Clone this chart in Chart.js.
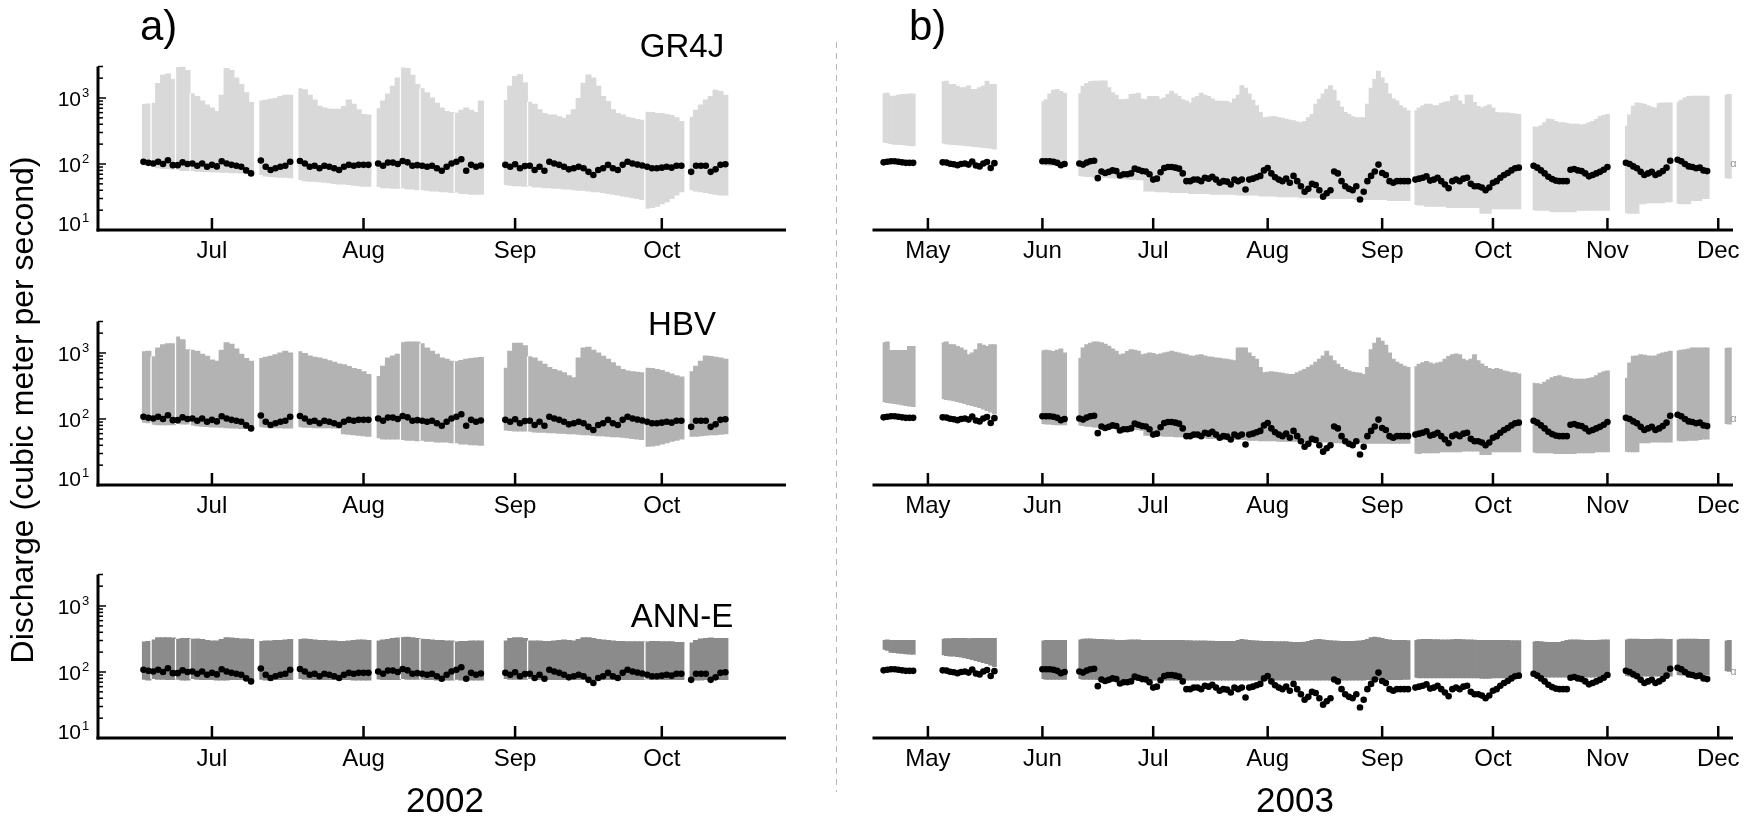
<!DOCTYPE html>
<html>
<head>
<meta charset="utf-8">
<script src="https://cdn.jsdelivr.net/npm/chart.js@4.4.1/dist/chart.umd.min.js"></script>
<style>
  body { margin: 0; background: #fff; width: 1749px; height: 820px; overflow: hidden; position: relative; }
  canvas { position: absolute; left: 0; top: 0; }
</style>
</head>
<body>
<canvas id="a1" width="1749" height="820"></canvas>
<canvas id="a2" width="1749" height="820"></canvas>
<canvas id="a3" width="1749" height="820"></canvas>
<canvas id="b1" width="1749" height="820"></canvas>
<canvas id="b2" width="1749" height="820"></canvas>
<canvas id="b3" width="1749" height="820"></canvas>
<script>
const FONT = '"Liberation Sans", Arial, Helvetica, sans-serif';

// ---- 2002 (panel a): day-of-year where each forecast segment starts ----
const segStartA = [168, 170, 175, 178, 192, 200, 216, 221, 225, 232, 242, 247, 271, 280];
const obsA = [
  [108, 104], [102, 108, 100, 114, 96], [96, 106, 100],
  [102, 94, 102, 91, 97, 92, 110, 102, 97, 94, 91, 80, 72],
  [113, 91, 81, 86, 91, 94, 108],
  [111, 102, 91, 94, 86, 94, 91, 86, 81, 91, 97, 94, 97, 97, 97],
  [102, 94, 105, 105, 100], [111, 106, 94, 96], [94, 91, 94, 86, 79, 91, 102],
  [108, 118, 79, 97, 91, 95], [97, 91, 99, 86, 93],
  [94, 81, 91, 79, 108, 102, 97, 91, 83, 86, 91, 86, 76, 68, 81, 86, 97, 86, 81, 97, 108, 102, 98, 95],
  [91, 86, 86, 88, 91, 88, 94, 94], [76, 94, 94, 94, 76, 83, 97, 99]
];
const gr4jHiA = [
  [810, 810], [850, 1650, 2200, 2300, 1900], [2950, 2950, 2600],
  [1180, 1050, 900, 780, 700, 620, 1100, 2800, 2600, 2000, 1600, 1200, 850],
  [920, 920, 950, 980, 1050, 1100, 1100],
  [1400, 1330, 1100, 930, 750, 700, 680, 670, 670, 740, 930, 800, 660, 560, 550],
  [700, 900, 1150, 1500, 2000], [2900, 2800, 2200, 1600], [1400, 1200, 1000, 830, 700, 620, 600],
  [600, 650, 700, 650, 600, 900], [930, 1500, 2100, 2250, 1700],
  [880, 800, 660, 580, 550, 550, 520, 490, 550, 660, 980, 1670, 2230, 2000, 1500, 1050, 880, 660, 580, 550, 510, 490, 470, 460],
  [620, 600, 580, 580, 560, 540, 500, 440], [520, 650, 780, 930, 1050, 1300, 1250, 1100]
];
const gr4jLoA = [
  [95, 95], [90, 88, 86, 85, 84], [82, 80, 80],
  [78, 78, 77, 77, 76, 76, 75, 75, 74, 74, 73, 72, 72],
  [68, 66, 65, 64, 63, 63, 62],
  [57, 56, 55, 55, 54, 53, 52, 51, 50, 50, 49, 48, 47, 46, 46],
  [45, 44, 44, 43, 43], [43, 42, 42, 41], [40, 40, 39, 39, 38, 38, 37],
  [37, 36, 36, 35, 35, 35], [48, 48, 47, 47, 46],
  [46, 45, 45, 44, 44, 43, 43, 42, 42, 41, 40, 40, 39, 38, 38, 37, 36, 35, 34, 33, 32, 31, 30, 29],
  [21, 22, 23, 25, 27, 30, 34, 38], [40, 39, 38, 37, 36, 35, 34, 34]
];
const hbvHiA = [
  [1060, 1060], [890, 1190, 1330, 1380, 1380], [1780, 1580, 1120],
  [1120, 1060, 950, 890, 780, 750, 1100, 1420, 1350, 1150, 950, 820, 750],
  [840, 860, 890, 940, 1000, 1060, 1000],
  [1060, 980, 900, 860, 840, 800, 760, 720, 680, 660, 620, 580, 560, 520, 470],
  [450, 630, 840, 900, 950], [1460, 1460, 1460, 1460], [1410, 1190, 1060, 950, 840, 800, 750],
  [750, 770, 800, 820, 840, 850], [600, 1060, 1400, 1400, 1280],
  [890, 840, 750, 670, 600, 560, 530, 500, 450, 420, 840, 1190, 1220, 1100, 1000, 890, 800, 710, 630, 560, 530, 520, 510, 500],
  [600, 580, 560, 540, 510, 480, 450, 430], [530, 630, 750, 900, 880, 860, 840, 800]
];
const hbvLoA = [
  [88, 88], [82, 82, 82, 82, 82], [84, 84, 84],
  [80, 79, 78, 77, 76, 76, 75, 74, 73, 73, 72, 72, 71],
  [75, 75, 74, 74, 74, 73, 73],
  [75, 75, 75, 74, 74, 74, 74, 73, 73, 60, 59, 58, 57, 56, 55],
  [51, 50, 50, 50, 50], [48, 48, 48, 47], [47, 46, 46, 45, 45, 45, 44],
  [43, 42, 42, 41, 41, 40], [67, 67, 66, 66, 66],
  [64, 64, 63, 63, 62, 62, 61, 61, 60, 60, 59, 58, 58, 57, 56, 56, 55, 54, 54, 53, 52, 51, 50, 49],
  [38, 39, 40, 42, 44, 46, 48, 50], [54, 55, 56, 57, 58, 58, 59, 60]
];
const annHiA = [
  [290, 290], [310, 330, 330, 330, 325], [320, 320, 320],
  [320, 315, 310, 300, 295, 295, 310, 330, 325, 320, 315, 315, 310],
  [295, 295, 295, 300, 300, 305, 310],
  [315, 315, 310, 305, 300, 300, 295, 295, 290, 290, 295, 300, 305, 305, 300],
  [300, 305, 310, 320, 325], [340, 335, 330, 320], [320, 310, 305, 300, 300, 295, 295],
  [290, 290, 290, 295, 295, 295], [300, 320, 330, 330, 320],
  [300, 295, 295, 290, 290, 295, 300, 305, 300, 295, 310, 330, 330, 320, 310, 305, 300, 295, 290, 290, 285, 285, 285, 285],
  [290, 290, 290, 285, 285, 285, 280, 280], [280, 300, 315, 320, 325, 320, 320, 320]
];
const annLoA = [
  [76, 76], [78, 78, 78, 77, 77], [76, 76, 76],
  [78, 78, 77, 77, 77, 76, 76, 76, 77, 77, 77, 78, 78],
  [76, 76, 76, 77, 77, 77, 77],
  [78, 78, 78, 77, 77, 77, 77, 77, 77, 77, 77, 76, 76, 76, 76],
  [77, 77, 77, 77, 77], [78, 78, 78, 78], [77, 77, 77, 76, 76, 76, 76],
  [76, 76, 76, 76, 76, 76], [78, 78, 78, 78, 78],
  [78, 78, 77, 77, 77, 77, 77, 77, 77, 77, 77, 77, 77, 77, 77, 77, 77, 77, 77, 77, 77, 77, 77, 77],
  [77, 77, 77, 77, 77, 77, 77, 77], [76, 76, 76, 77, 77, 77, 77, 77]
];
const monthDaysA = [182, 213, 244, 274];
const monthLabelsA = ["Jul", "Aug", "Sep", "Oct"];

// ---- 2003 (panel b) ----
const segStartB = [109, 125, 152, 162, 253, 285, 310, 324, 337];
const obsB = [
  [106, 108, 110, 110, 108, 106, 104, 104, 104],
  [106, 105, 101, 99, 96, 100, 102, 98, 109, 95, 92, 102, 107, 87, 103],
  [110, 110, 110, 108, 104, 96, 100],
  [102, 98, 105, 110, 112, 61, 77, 73, 76, 80,
   78, 67, 70, 70, 72, 85, 82, 78, 77, 70,
   58, 60, 75, 87, 90, 90, 88, 85, 72, 55,
   55, 58, 58, 55, 62, 60, 64, 58, 52, 55,
   54, 49, 58, 55, 58, 41, 58, 60, 63, 66,
   80, 87, 72, 63, 58, 55, 60, 52, 66, 55,
   46, 38, 42, 50, 48, 40, 32, 36, 40, 77,
   72, 55, 46, 42, 40, 46, 29, 38, 55, 66,
   77, 98, 73, 68, 55, 52, 55, 55, 55, 55],
  [58, 60, 62, 65, 56, 58, 62, 55, 49, 43, 55, 58, 55, 60, 62, 50, 46, 46, 44, 40, 44, 52, 55, 62, 68, 73, 80, 86, 88],
  [94, 88, 80, 72, 64, 59, 56, 55, 55, 55, 82, 84, 80, 78, 72, 65, 68, 72, 76, 82, 90],
  [104, 100, 92, 86, 76, 68, 72, 76, 68, 72, 78, 88, 112],
  [116, 110, 100, 92, 90, 86, 88, 80, 78],
  [null, null]
];
const gr4jHiB = [
  [1180, 1180, 1060, 1060, 1100, 1130, 1130, 1150, 1150],
  [1790, 1790, 1590, 1590, 1500, 1420, 1420, 1520, 1340, 1340, 1420, 1500, 1790, 1590, 1590],
  [890, 940, 1150, 1300, 1340, 1250, 1180],
  [1180, 1500, 1650, 1750, 1790, 1790, 1800, 1800, 1420, 1200,
   1100, 940, 940, 950, 1130, 1150, 1180, 960, 940, 1050,
   1050, 1050, 950, 1000, 1130, 1260, 1150, 1050, 940, 900,
   840, 1000, 1050, 1180, 1100, 1050, 960, 900, 890, 890,
   880, 840, 960, 1100, 1530, 1400, 1150, 920, 760, 600,
   500, 510, 520, 520, 500, 490, 475, 460, 450, 430,
   420, 440, 500, 560, 800, 950, 1150, 1350, 1530, 1300,
   900, 720, 600, 560, 520, 500, 500, 500, 800, 1400,
   1900, 2540, 2000, 1650, 1150, 960, 900, 760, 700, 640],
  [650, 700, 760, 800, 800, 760, 760, 820, 860, 880, 1050, 1100, 900, 800, 1100, 1100, 850, 740, 700, 740, 780, 700, 600, 590, 590, 590, 580, 570, 560],
  [370, 360, 380, 420, 480, 470, 440, 420, 420, 410, 400, 400, 400, 390, 400, 420, 440, 470, 520, 540, 560],
  [380, 550, 750, 840, 820, 800, 760, 720, 700, 820, 840, 840, 840],
  [880, 920, 1000, 1050, 1060, 1060, 1060, 1060, 1060],
  [1130, 1130]
];
const gr4jLoB = [
  [210, 210, 205, 200, 200, 198, 195, 192, 190],
  [205, 203, 200, 198, 196, 194, 192, 190, 187, 185, 182, 180, 177, 174, 170],
  [98, 97, 96, 95, 94, 93, 92],
  [66, 66, 65, 65, 64, 64, 63, 63, 62, 62, 61, 61, 60, 60, 59, 59, 58, 58,
   39, 39, 39, 38, 38, 38, 38, 37, 37, 37, 37, 37, 36, 36, 36, 36, 36, 36, 35, 35, 35, 35, 35, 35, 35, 34, 34, 34, 34, 34, 34,
   33, 33, 33, 33, 33, 32, 32, 32, 32, 32, 32, 31, 31, 31, 31, 31, 31, 31, 30, 30, 30, 30, 30, 30, 30, 30, 29, 29, 29, 29, 29, 29, 29, 29, 29, 28, 28, 28, 28, 28, 28],
  [24, 24, 24, 23, 23, 23, 23, 23, 23, 22, 22, 22, 22, 22, 22, 22, 22, 22, 18, 18, 18, 21, 21, 21, 21, 21, 21, 21, 21],
  [20, 20, 20, 20, 20, 19, 19, 19, 19, 19, 19, 19, 20, 20, 20, 20, 20, 20, 20, 20, 20],
  [18, 18, 18, 18, 25, 25, 26, 26, 26, 26, 26, 27, 27],
  [25, 25, 25, 25, 28, 28, 28, 30, 30],
  [61, 61]
];
const hbvHiB = [
  [1460, 1460, 1090, 1090, 1090, 1090, 1090, 1250, 1250],
  [1460, 1460, 1330, 1330, 1250, 1190, 1100, 940, 1000, 1120, 1370, 1300, 1250, 1330, 1330],
  [1100, 1100, 1080, 1050, 1100, 1150, 1000],
  [840, 1190, 1330, 1400, 1460, 1460, 1430, 1350, 1260, 1150,
   1060, 940, 960, 1050, 1120, 1100, 1060, 940, 960, 1000,
   980, 940, 960, 1000, 1020, 1060, 1020, 1000, 960, 940,
   900, 890, 920, 940, 900, 870, 860, 840, 830, 810,
   800, 780, 760, 1190, 1190, 1190, 1000, 880, 800, 600,
   500, 510, 520, 510, 500, 490, 480, 470, 470, 500,
   530, 560, 600, 650, 720, 800, 900, 1060, 900, 760,
   670, 600, 560, 530, 510, 500, 490, 470, 600, 1120,
   1400, 1680, 1500, 1300, 1000, 800, 720, 670, 630, 600],
  [630, 670, 710, 740, 700, 680, 700, 720, 800, 880, 940, 960, 940, 800, 760, 800, 940, 760, 680, 620, 580, 560, 580, 560, 530, 520, 500, 500, 480],
  [355, 340, 335, 360, 390, 420, 440, 450, 430, 420, 410, 400, 400, 400, 400, 410, 420, 450, 490, 520, 530],
  [420, 700, 890, 900, 940, 920, 900, 890, 900, 950, 1000, 1020, 1060],
  [1090, 1100, 1120, 1150, 1190, 1190, 1190, 1190, 1190],
  [1190, 1190]
];
const hbvLoB = [
  [180, 178, 175, 172, 170, 165, 160, 158, 155],
  [200, 198, 195, 190, 185, 178, 172, 165, 160, 155, 150, 142, 135, 128, 120],
  [84, 84, 84, 83, 82, 82, 82],
  [80, 80, 78, 78, 76, 76, 75, 75, 74, 74, 73, 72, 72, 71, 70, 70, 69, 68,
   57, 57, 56, 56, 56, 55, 55, 55, 54, 54, 54, 53, 53, 53, 52, 52, 52, 51, 51, 51, 50, 50, 50, 50, 49, 49, 49, 49, 48, 48, 48,
   47, 47, 47, 47, 47, 46, 46, 46, 46, 46, 46, 46, 45, 45, 45, 45, 45, 45, 45, 45, 44, 44, 44, 44, 44, 44, 44, 44, 44, 43, 43, 43, 43, 43, 43, 43, 43, 43, 43, 43, 43],
  [30, 30, 31, 31, 31, 31, 31, 32, 32, 32, 32, 32, 32, 33, 33, 33, 33, 33, 29, 29, 29, 32, 32, 32, 32, 32, 32, 32, 32],
  [31, 31, 31, 31, 31, 31, 30, 30, 30, 30, 30, 30, 31, 31, 31, 31, 31, 32, 32, 32, 32],
  [32, 32, 32, 32, 44, 44, 44, 45, 45, 45, 45, 45, 45],
  [47, 47, 47, 48, 48, 48, 49, 50, 50],
  [84, 84]
];
const annHiB = [
  [305, 305, 300, 300, 300, 300, 300, 300, 300],
  [320, 318, 318, 320, 320, 322, 320, 318, 320, 320, 322, 320, 322, 322, 320],
  [300, 300, 300, 300, 300, 300, 300],
  [310, 312, 315, 315, 312, 310, 310, 308, 305, 303,
   300, 300, 300, 302, 305, 305, 303, 300, 300, 300,
   300, 300, 300, 298, 298, 300, 300, 298, 298, 296,
   296, 295, 295, 294, 294, 292, 292, 290, 290, 290,
   288, 288, 290, 300, 310, 305, 300, 296, 294, 292,
   290, 288, 288, 286, 286, 285, 285, 282, 280, 280,
   280, 282, 290, 300, 308, 310, 305, 300, 296, 294,
   292, 290, 288, 288, 290, 292, 295, 300, 310, 330,
   335, 330, 320, 310, 305, 300, 300, 298, 298, 296],
  [305, 308, 310, 310, 310, 308, 306, 305, 305, 305, 308, 310, 310, 308, 305, 305, 302, 300, 300, 300, 300, 300, 298, 298, 298, 298, 296, 296, 296],
  [290, 288, 286, 282, 280, 278, 278, 280, 290, 300, 305, 305, 305, 302, 300, 300, 300, 300, 302, 305, 305],
  [310, 312, 312, 312, 310, 310, 310, 310, 312, 312, 312, 310, 310],
  [310, 312, 312, 312, 312, 312, 310, 310, 310],
  [300, 300]
];
const annLoB = [
  [218, 215, 200, 198, 195, 193, 190, 188, 186],
  [180, 178, 176, 175, 172, 170, 165, 160, 155, 150, 145, 140, 135, 128, 122],
  [78, 78, 78, 78, 78, 78, 78],
  [78, 78, 78, 78, 78, 77, 77, 77, 77, 77,
   77, 77, 77, 76, 76, 76, 76, 76, 76, 76,
   76, 76, 76, 76, 76, 76, 76, 76, 76, 76,
   76, 76, 76, 76, 76, 76, 76, 76, 76, 76,
   76, 76, 76, 76, 76, 76, 76, 76, 76, 76,
   76, 76, 76, 76, 76, 76, 76, 76, 76, 76,
   76, 76, 76, 76, 76, 76, 76, 76, 76, 76,
   76, 76, 76, 76, 76, 76, 76, 76, 77, 77,
   77, 77, 77, 77, 77, 77, 77, 77, 78, 78],
  [82, 82, 82, 82, 82, 82, 82, 82, 82, 82, 82, 82, 82, 82, 82, 82, 82, 82, 81, 81, 81, 82, 82, 82, 82, 82, 82, 82, 82],
  [84, 84, 84, 84, 84, 84, 84, 84, 84, 84, 84, 84, 84, 84, 84, 84, 84, 84, 84, 84, 84],
  [87, 87, 87, 87, 87, 87, 87, 87, 87, 87, 87, 87, 87],
  [90, 90, 90, 90, 90, 90, 90, 90, 90],
  [103, 103]
];
const monthDaysB = [121, 152, 182, 213, 244, 274, 305, 335];
const monthLabelsB = ["May", "Jun", "Jul", "Aug", "Sep", "Oct", "Nov", "Dec"];

const yTickValues = [10, 100, 1000];
const yTickPowers = ["1", "2", "3"];
const modelNames = ["GR4J", "HBV", "ANN-E"];
const modelColors = ["#d9d9d9", "#b3b3b3", "#8b8b8b"];

function bandData(starts, lo, hi) {
  const rows = [];
  starts.forEach((start, k) => {
    hi[k].forEach((top, i) => {
      rows.push({ x: start + i, y: [lo[k][i], top], segStart: i === 0 });
    });
  });
  return rows;
}

function obsData(starts, obs) {
  const rows = [];
  starts.forEach((start, k) => {
    obs[k].forEach((v, i) => {
      if (v !== null) rows.push({ x: start + i, y: v });
    });
  });
  return rows;
}

// axes, month ticks and labels drawn from the chart's own scales
const panelAxes = {
  id: "panelAxes",
  afterDraw(chart, args, o) {
    const { ctx, chartArea: a } = chart;
    const x = chart.scales.x, y = chart.scales.y;
    ctx.save();
    ctx.strokeStyle = "#000";
    ctx.fillStyle = "#000";
    ctx.lineWidth = 3;
    ctx.beginPath();
    ctx.moveTo(a.left - 1.5, a.bottom);
    ctx.lineTo(a.right, a.bottom);
    ctx.stroke();

    ctx.font = "24px " + FONT;
    ctx.textAlign = "center";
    ctx.textBaseline = "alphabetic";
    o.monthDays.forEach((d, i) => {
      const px = x.getPixelForValue(d);
      ctx.lineWidth = 2.5;
      ctx.beginPath();
      ctx.moveTo(px, a.bottom);
      ctx.lineTo(px, a.bottom - 12);
      ctx.stroke();
      ctx.fillText(o.monthLabels[i], px, a.bottom + 28);
    });

    if (o.showY) {
      ctx.lineWidth = 3;
      ctx.beginPath();
      ctx.moveTo(a.left, a.top);
      ctx.lineTo(a.left, a.bottom + 1.5);
      ctx.stroke();
      ctx.lineWidth = 1.5;
      yTickValues.forEach((base) => {
        for (let m = 1; m <= 9; m++) {
          const v = base * m;
          if (v > y.max) break;
          const py = y.getPixelForValue(v);
          ctx.beginPath();
          ctx.moveTo(a.left, py);
          ctx.lineTo(a.left + (m === 1 ? 8 : 5), py);
          ctx.stroke();
        }
      });
      yTickValues.forEach((v, i) => {
        const py = y.getPixelForValue(v);
        const shift = i === 0 ? 1 : 8;
        ctx.font = "21px " + FONT;
        ctx.textAlign = "right";
        ctx.fillText("10", a.left - 17, py + shift);
        ctx.font = "13px " + FONT;
        ctx.textAlign = "left";
        ctx.fillText(yTickPowers[i], a.left - 16, py + shift - 9);
      });
    }

    if (o.title) {
      ctx.font = "33px " + FONT;
      ctx.textAlign = "center";
      ctx.fillText(o.title, 682, o.titleY);
    }
    if (o.mark) {
      ctx.font = "11px " + FONT;
      ctx.fillStyle = "#999";
      ctx.textAlign = "center";
      ctx.textBaseline = "middle";
      ctx.fillText("α", x.getPixelForValue(o.mark[0]) + 4, y.getPixelForValue(o.mark[1]));
    }
    ctx.restore();
  }
};

// figure-level texts: panel letters, shared y title, years and separator
const figureText = {
  id: "figureText",
  afterDraw(chart) {
    const ctx = chart.ctx;
    ctx.save();
    ctx.fillStyle = "#000";
    ctx.textBaseline = "alphabetic";
    ctx.font = "42px " + FONT;
    ctx.textAlign = "left";
    ctx.fillText("a)", 140, 40);
    ctx.fillText("b)", 909, 40);
    ctx.font = "35px " + FONT;
    ctx.textAlign = "center";
    ctx.fillText("2002", 445, 812);
    ctx.fillText("2003", 1295, 812);
    ctx.save();
    ctx.translate(24, 410);
    ctx.rotate(-Math.PI / 2);
    ctx.font = "32px " + FONT;
    ctx.textBaseline = "middle";
    ctx.fillText("Discharge (cubic meter per second)", 0, 0);
    ctx.restore();
    ctx.strokeStyle = "#b5b5b5";
    ctx.lineWidth = 1;
    ctx.setLineDash([6, 5]);
    ctx.beginPath();
    ctx.moveTo(836.5, 42);
    ctx.lineTo(836.5, 792);
    ctx.stroke();
    ctx.restore();
  }
};

const W = 1749, H = 820;
const rowBox = [
  { top: 66.5, bottom: 230, titleY: 57 },
  { top: 321.5, bottom: 485, titleY: 335 },
  { top: 574.5, bottom: 738, titleY: 627 }
];
const colBox = {
  a: { left: 98, right: 786, xMin: 158.7, xMax: 299.4 },
  b: { left: 874, right: 1733, xMin: 106.4, xMax: 339.0 }
};

function makePanel(id, col, row, starts, obs, lo, hi) {
  const c = colBox[col], r = rowBox[row];
  new Chart(document.getElementById(id), {
    type: "bar",
    data: {
      datasets: [
        {
          type: "scatter",
          data: obsData(starts, obs),
          backgroundColor: "#000",
          borderWidth: 0,
          pointRadius: 3.3
        },
        {
          type: "bar",
          data: bandData(starts, lo, hi),
          backgroundColor: modelColors[row],
          borderColor: "#fff",
          borderSkipped: false,
          borderWidth: (ctx) => (ctx.raw && ctx.raw.segStart ? { left: 1.5, right: 0, top: 0, bottom: 0 } : 0),
          inflateAmount: 0.6,
          barPercentage: 1,
          categoryPercentage: 1
        }
      ]
    },
    options: {
      responsive: false,
      animation: false,
      layout: { padding: { left: c.left, right: W - c.right, top: r.top, bottom: H - r.bottom } },
      plugins: {
        legend: { display: false },
        tooltip: { enabled: false },
        panelAxes: {
          monthDays: col === "a" ? monthDaysA : monthDaysB,
          monthLabels: col === "a" ? monthLabelsA : monthLabelsB,
          showY: col === "a",
          title: col === "a" ? modelNames[row] : null,
          titleY: r.titleY,
          mark: col === "b" ? [338, 100] : null
        }
      },
      scales: {
        x: { type: "linear", min: c.xMin, max: c.xMax, offset: false, display: false, ticks: { stepSize: 50 } },
        y: { type: "logarithmic", min: 10, max: 3000, display: false }
      }
    },
    plugins: id === "a1" ? [panelAxes, figureText] : [panelAxes]
  });
}

makePanel("a1", "a", 0, segStartA, obsA, gr4jLoA, gr4jHiA);
makePanel("a2", "a", 1, segStartA, obsA, hbvLoA, hbvHiA);
makePanel("a3", "a", 2, segStartA, obsA, annLoA, annHiA);
makePanel("b1", "b", 0, segStartB, obsB, gr4jLoB, gr4jHiB);
makePanel("b2", "b", 1, segStartB, obsB, hbvLoB, hbvHiB);
makePanel("b3", "b", 2, segStartB, obsB, annLoB, annHiB);
</script>
</body>
</html>
